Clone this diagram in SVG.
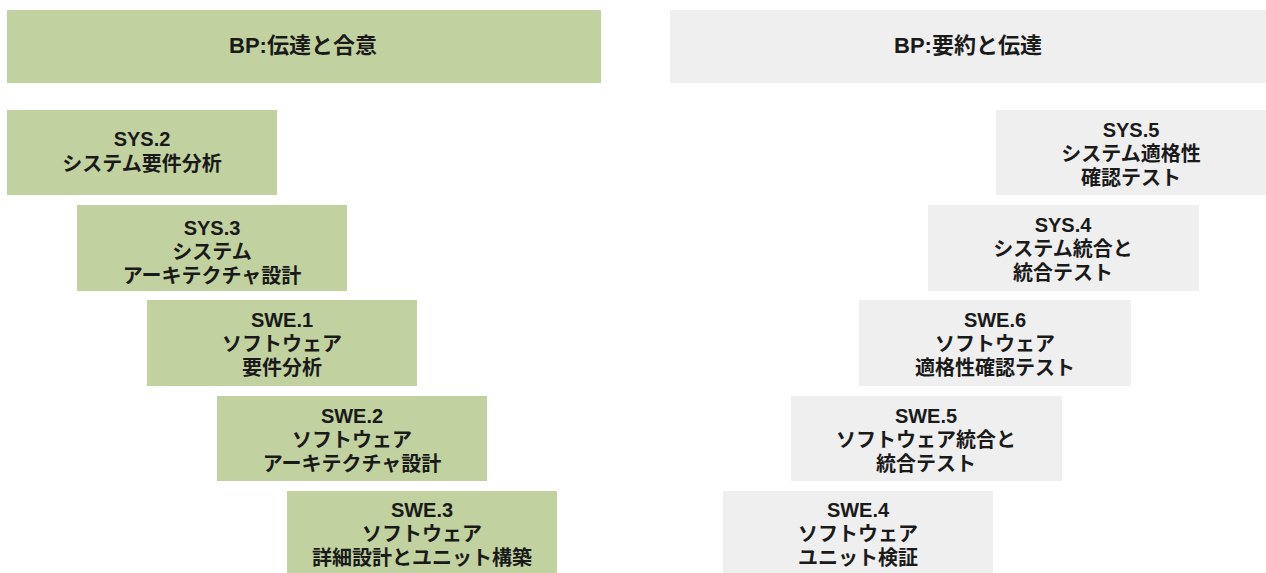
<svg xmlns="http://www.w3.org/2000/svg" width="1266" height="573" viewBox="0 0 1266 573">
<style>
.g{fill:#c1d19f}
.w{fill:#efefef}
text{font-family:"Liberation Sans","Noto Sans CJK JP",sans-serif;font-weight:bold;font-size:20px;fill:#1a1a1a;text-anchor:middle}
text.h{font-size:22px}
</style>
<rect width="1266" height="573" fill="#ffffff"/>
<g id="hdr-left"><rect class="g" x="7" y="10" width="594" height="73"/><text class="h" x="303" y="53">BP:伝達と合意</text></g>
<g id="hdr-right"><rect class="w" x="670" y="10" width="596" height="73"/><text class="h" x="968" y="53">BP:要約と伝達</text></g>
<g id="sys2"><rect class="g" x="7" y="110" width="270" height="85"/><text x="142" y="146">SYS.2</text><text x="142" y="171">システム要件分析</text></g>
<g id="sys3"><rect class="g" x="77" y="205" width="270" height="86"/><text x="212" y="235">SYS.3</text><text x="212" y="259">システム</text><text x="212" y="283">アーキテクチャ設計</text></g>
<g id="swe1"><rect class="g" x="147" y="300" width="270" height="86"/><text x="282" y="327">SWE.1</text><text x="282" y="351">ソフトウェア</text><text x="282" y="375">要件分析</text></g>
<g id="swe2"><rect class="g" x="217" y="396" width="270" height="85"/><text x="352" y="423">SWE.2</text><text x="352" y="447">ソフトウェア</text><text x="352" y="471">アーキテクチャ設計</text></g>
<g id="swe3"><rect class="g" x="287" y="491" width="270" height="86"/><text x="422" y="517">SWE.3</text><text x="422" y="541">ソフトウェア</text><text x="422" y="565">詳細設計とユニット構築</text></g>
<g id="sys5"><rect class="w" x="996" y="110" width="270" height="85"/><text x="1131" y="137">SYS.5</text><text x="1131" y="161">システム適格性</text><text x="1131" y="185">確認テスト</text></g>
<g id="sys4"><rect class="w" x="928" y="205" width="271" height="86"/><text x="1063" y="232">SYS.4</text><text x="1063" y="256">システム統合と</text><text x="1063" y="280">統合テスト</text></g>
<g id="swe6"><rect class="w" x="859" y="300" width="272" height="86"/><text x="995" y="327">SWE.6</text><text x="995" y="351">ソフトウェア</text><text x="995" y="375">適格性確認テスト</text></g>
<g id="swe5"><rect class="w" x="791" y="396" width="271" height="85"/><text x="926" y="423">SWE.5</text><text x="926" y="447">ソフトウェア統合と</text><text x="926" y="471">統合テスト</text></g>
<g id="swe4"><rect class="w" x="723" y="491" width="270" height="86"/><text x="858" y="517">SWE.4</text><text x="858" y="541">ソフトウェア</text><text x="858" y="565">ユニット検証</text></g>
<g id="connectors"></g>
</svg>
